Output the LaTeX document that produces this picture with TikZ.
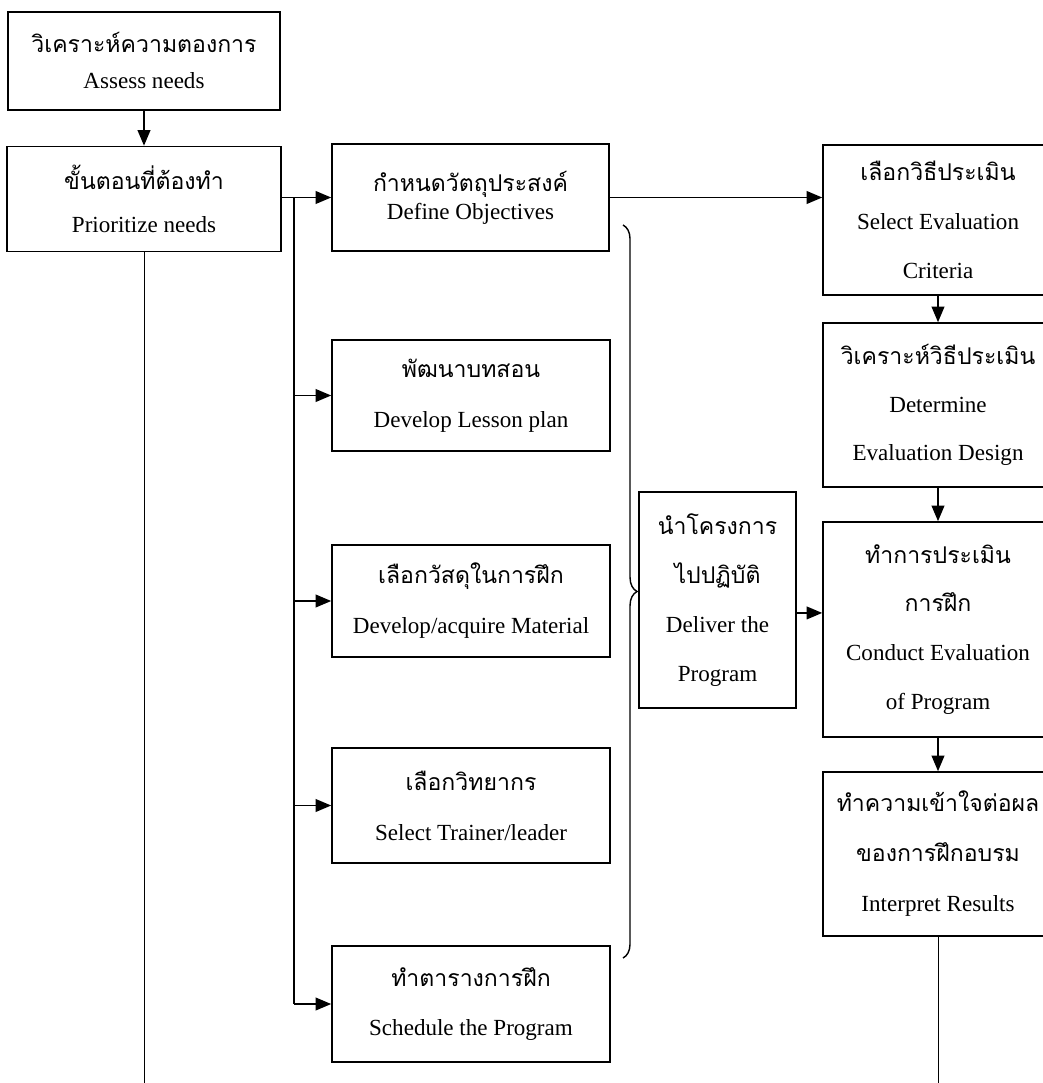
\documentclass[tikz,border=0pt]{standalone}
\usepackage{fontspec}
\setmainfont{Liberation Serif}
\newfontfamily\thaifont[Script=Thai]{Loma}
\usetikzlibrary{arrows.meta,decorations.pathreplacing}

\tikzset{
  stepbox/.style={draw, line width=1.1pt, align=center, inner sep=0pt},
  rowgap/.style={font=\fontsize{16.4}{#1}\selectfont},
  flow/.style={line width=1.1pt, -{Triangle[length=11pt,width=9pt]}},
  link/.style={line width=1.1pt},
  thin link/.style={line width=0.7pt}
}

\begin{document}
\begin{tikzpicture}[x=0.025cm, y=-0.025cm]
\useasboundingbox (0,0) rectangle (1043,1083);
\clip (0,0) rectangle (1043,1083);

\node[stepbox, rowgap=25.6, minimum width=6.8cm, minimum height=2.45cm] (assess) at (144,61)
  {{\thaifont วิเคราะห์ความตองการ}\\ Assess needs};
\node[stepbox, rowgap=30.6, minimum width=6.85cm, minimum height=2.625cm] (prior) at (144,199)
  {{\thaifont ขั้นตอนที่ต้องทำ}\\ Prioritize needs};

\node[stepbox, rowgap=20, minimum width=6.925cm, minimum height=2.675cm] (objectives) at (470.5,197.5)
  {{\thaifont กำหนดวัตถุประสงค์}\\ Define Objectives};
\node[stepbox, rowgap=35.5, minimum width=6.95cm, minimum height=2.775cm] (lesson) at (471,395.5)
  {{\thaifont พัฒนาบทสอน}\\ Develop Lesson plan};
\node[stepbox, rowgap=35.5, minimum width=6.95cm, minimum height=2.8cm] (material) at (471,601)
  {{\thaifont เลือกวัสดุในการฝึก}\\ Develop/acquire Material};
\node[stepbox, rowgap=35.5, minimum width=6.95cm, minimum height=2.875cm] (trainer) at (471,805.5)
  {{\thaifont เลือกวิทยากร}\\ Select Trainer/leader};
\node[stepbox, rowgap=35.5, minimum width=6.95cm, minimum height=2.9cm] (schedule) at (471,1004)
  {{\thaifont ทำตารางการฝึก}\\ Schedule the Program};

\node[stepbox, rowgap=34.8, minimum width=3.925cm, minimum height=5.4cm] (deliver) at (717.5,600)
  {{\thaifont นำโครงการ}\\ {\thaifont ไปปฏิบัติ}\\ Deliver the\\ Program};

\node[stepbox, rowgap=34.8, minimum width=5.75cm, minimum height=3.75cm] (criteria) at (938,220)
  {{\thaifont เลือกวิธีประเมิน}\\ Select Evaluation\\ Criteria};
\node[stepbox, rowgap=34.1, minimum width=5.75cm, minimum height=4.1cm] (design) at (938,405)
  {{\thaifont วิเคราะห์วิธีประเมิน}\\ Determine\\ Evaluation Design};
\node[stepbox, rowgap=34.8, minimum width=5.75cm, minimum height=5.375cm] (conduct) at (938,629.5)
  {{\thaifont ทำการประเมิน}\\ {\thaifont การฝึก}\\ Conduct Evaluation\\ of Program};
\node[stepbox, rowgap=35.5, minimum width=5.75cm, minimum height=4.1cm] (results) at (938,854)
  {{\thaifont ทำความเข้าใจต่อผล}\\ {\thaifont ของการฝึกอบรม}\\ Interpret Results};

\coordinate (branch) at (294,0);
\coordinate (bottom) at (0,1083);

\draw[flow] (assess) -- (prior);
\draw[flow] (prior.east |- objectives.west) -- (objectives.west);
\draw[link] (branch |- objectives.west) -- (branch |- schedule.west);
\foreach \n in {lesson,material,trainer,schedule}
  \draw[flow] (branch |- \n.west) -- (\n.west);
\draw[thin link] (prior.south) -- (prior.south |- bottom);

\draw[flow] (objectives.east) -- (objectives.east -| criteria.west);
\draw[line width=1pt, decorate, decoration={brace, amplitude=10pt}] (623,225) -- (623,958);
\draw[flow] ([yshift=-9.2pt]deliver.east) -- ([yshift=-9.2pt]deliver.east -| conduct.west);

\draw[flow] (criteria) -- (design);
\draw[flow] (design) -- (conduct);
\draw[flow] (conduct) -- (results);
\draw[thin link] (results.south) -- (results.south |- bottom);

\end{tikzpicture}
\end{document}
